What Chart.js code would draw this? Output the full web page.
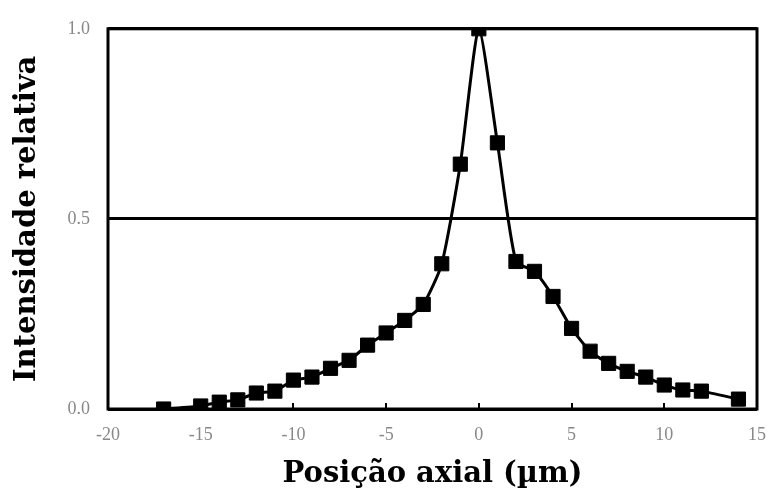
<!DOCTYPE html>
<html>
<head>
<meta charset="utf-8">
<script src="https://cdn.jsdelivr.net/npm/chart.js@4"></script>
<style>
  html, body { margin: 0; padding: 0; background: #fff; }
  #wrap { width: 768px; height: 492px; }
</style>
</head>
<body>
<div id="wrap"><canvas id="chart" width="768" height="492"></canvas></div>
<script>
const posX = [-17, -15, -14, -13, -12, -11, -10, -9, -8, -7, -6, -5, -4, -3, -2, -1, 0, 1, 2, 3, 4, 5, 6, 7, 8, 9, 10, 11, 12, 14];
const intensity = [0.0, 0.008, 0.018, 0.024, 0.042, 0.047, 0.076, 0.084, 0.107, 0.128, 0.168, 0.2, 0.233, 0.275, 0.382, 0.644, 1.0, 0.70, 0.388, 0.362, 0.296, 0.212, 0.152, 0.12, 0.099, 0.084, 0.063, 0.05, 0.047, 0.026];
const xTicks = [-20, -15, -10, -5, 0, 5, 10, 15];
const yTicks = [0.0, 0.5, 1.0];

const ctx = document.getElementById('chart').getContext('2d');

// box around the plot + tick marks pointing inwards on the x axis
const frame = {
    id: 'frame',
    afterDatasetsDraw(chart) {
        const a = chart.chartArea;
        const c = chart.ctx;
        const xs = chart.scales.x;
        c.save();
        c.strokeStyle = '#000';
        c.lineWidth = 3;
        c.strokeRect(a.left, a.top, a.right - a.left, a.bottom - a.top);
        c.lineWidth = 2;
        xTicks.forEach(v => {
            const px = Math.round(xs.getPixelForValue(v));
            c.beginPath();
            c.moveTo(px, a.bottom);
            c.lineTo(px, a.bottom - 6);
            c.stroke();
        });
        c.restore();
    }
};

new Chart(ctx, {
    type: 'scatter',
    data: {
        datasets: [{
            data: posX.map((x, i) => ({ x: x, y: intensity[i] })),
            showLine: true,
            borderColor: '#000',
            borderWidth: 3,
            tension: 0.2,
            pointStyle: 'rect',
            pointRadius: 10,
            pointBorderWidth: 1,
            pointBackgroundColor: '#000',
            pointBorderColor: '#000'
        }]
    },
    options: {
        responsive: false,
        animation: false,
        layout: { padding: { top: 27, right: 10, left: 0, bottom: 0 } },
        plugins: { legend: { display: false }, tooltip: { enabled: false } },
        scales: {
            x: {
                type: 'linear',
                min: -20,
                max: 15,
                afterBuildTicks: s => { s.ticks = xTicks.map(v => ({ value: v })); },
                afterFit: s => { s.height = 83; s.paddingLeft = 0; s.paddingRight = 0; },
                grid: { display: false, drawTicks: false },
                border: { display: false },
                ticks: {
                    padding: 15,
                    color: '#888',
                    font: { family: 'Liberation Serif', size: 18 },
                    callback: v => String(v)
                },
                title: {
                    display: true,
                    text: 'Posição axial (µm)',
                    color: '#000',
                    padding: { top: 2, bottom: 0 },
                    font: { family: 'DejaVu Serif', size: 29, weight: 'bold' }
                }
            },
            y: {
                min: 0,
                max: 1,
                afterBuildTicks: s => { s.ticks = yTicks.map(v => ({ value: v })); },
                afterFit: s => { s.width = 108; },
                grid: { color: '#000', lineWidth: 3, drawTicks: false },
                border: { display: false },
                ticks: {
                    padding: 18,
                    color: '#888',
                    font: { family: 'Liberation Serif', size: 18 },
                    callback: v => Number(v).toFixed(1)
                },
                title: {
                    display: true,
                    text: 'Intensidade relativa',
                    color: '#000',
                    padding: { top: 10, bottom: 0 },
                    font: { family: 'DejaVu Serif', size: 29, weight: 'bold' }
                }
            }
        }
    },
    plugins: [frame]
});
</script>
</body>
</html>
